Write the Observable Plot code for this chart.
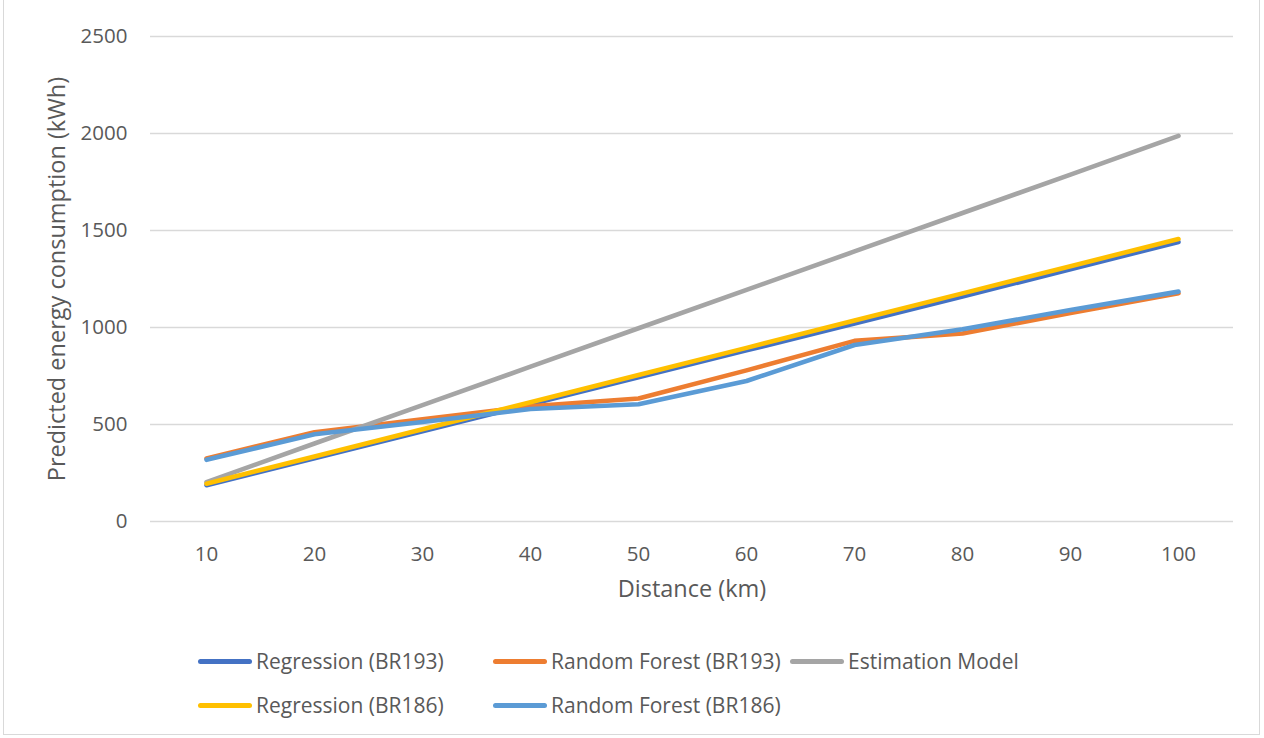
<!DOCTYPE html>
<html>
<head>
<meta charset="utf-8">
<script src="https://cdn.jsdelivr.net/npm/d3@7"></script>
<script src="https://cdn.jsdelivr.net/npm/@observablehq/plot@0.6"></script>
<style>
  body { margin: 0; background: #fff; }
  #chart { position: relative; width: 1264px; height: 738px; font-family: "Open Sans", sans-serif; color: #595959; overflow: hidden; }
  #border { position: absolute; left: 3px; top: -2px; width: 1257px; height: 737px; border: 1px solid #d9d9d9; box-sizing: border-box; pointer-events: none; }
  .legend-item { position: absolute; display: flex; align-items: center; font-size: 21px; white-space: nowrap; }
  .legend-item .swatch { width: 54px; height: 5px; border-radius: 3px; margin-right: 4px; }
</style>
</head>
<body>
<div id="chart"><div id="border"></div></div>
<script>
// Distance categories (km)
const distances = [10, 20, 30, 40, 50, 60, 70, 80, 90, 100];

// Predicted energy consumption (kWh) per series
const regressionBR193   = [187, 326, 465, 604, 743, 882, 1021, 1160, 1300, 1441];
const randomForestBR193 = [325, 460, 527, 594, 634, 779, 931, 969, 1075, 1176];
const estimationModel   = [203, 402, 600, 798, 996, 1194, 1392, 1590, 1788, 1988];
const regressionBR186   = [195, 335, 475, 615, 755, 895, 1036, 1176, 1316, 1456];
const randomForestBR186 = [318, 450, 513, 580, 604, 724, 910, 991, 1090, 1185];

const seriesNames = [
  "Regression (BR193)",
  "Random Forest (BR193)",
  "Estimation Model",
  "Regression (BR186)",
  "Random Forest (BR186)"
];
const seriesValues = [regressionBR193, randomForestBR193, estimationModel, regressionBR186, randomForestBR186];
const seriesColors = ["#4472C4", "#ED7D31", "#A5A5A5", "#FFC000", "#5B9BD5"];

const yTicks = [0, 500, 1000, 1500, 2000, 2500];
const xTitle = "Distance (km)";
const yTitle = "Predicted energy consumption (kWh)";

// Long-form rows; series order sets the drawing order
const rows = seriesNames.flatMap((name, i) =>
  distances.map((d, j) => ({series: name, distance: d, value: seriesValues[i][j]}))
);

const chart = Plot.plot({
  width: 1264,
  height: 738,
  marginLeft: 150,
  marginRight: 31,
  marginTop: 36,
  marginBottom: 217,
  style: {fontFamily: "'Open Sans', sans-serif", fontSize: "20.5px", color: "#595959", background: "transparent"},
  x: {type: "point", domain: distances, padding: 0.5},
  y: {domain: [0, 2500]},
  color: {domain: seriesNames, range: seriesColors},
  marks: [
    Plot.gridY(yTicks, {stroke: "#d9d9d9", strokeOpacity: 1, strokeWidth: 1.3}),
    Plot.axisY(yTicks, {tickSize: 0, tickPadding: 23, fill: "#595959", tickFormat: d => String(d), label: null}),
    Plot.axisX({tickSize: 0, tickPadding: 25, fill: "#595959", label: null}),
    Plot.text([xTitle], {
      frameAnchor: "bottom", dy: 68, lineAnchor: "middle", textAnchor: "middle",
      fontSize: 23.5, fill: "#595959", text: d => d
    }),
    Plot.text([yTitle], {
      frameAnchor: "left", dx: -93, rotate: -90, lineAnchor: "middle", textAnchor: "middle",
      fontSize: 23.5, fill: "#595959", text: d => d
    }),
    Plot.line(rows, {
      x: "distance", y: "value", z: "series", stroke: "series",
      strokeWidth: 4.6, strokeLinecap: "round", strokeLinejoin: "round"
    })
  ]
});
document.getElementById("chart").appendChild(chart);

// Legend below the plot area
const legendSpots = [
  {left: 198, top: 647}, {left: 493, top: 647}, {left: 790, top: 647},
  {left: 198, top: 691}, {left: 493, top: 691}
];
const container = document.getElementById("chart");
seriesNames.forEach((name, i) => {
  const item = document.createElement("div");
  item.className = "legend-item";
  item.style.left = legendSpots[i].left + "px";
  item.style.top = legendSpots[i].top + "px";
  const sw = document.createElement("div");
  sw.className = "swatch";
  sw.style.background = seriesColors[i];
  const label = document.createElement("span");
  label.textContent = name;
  item.appendChild(sw);
  item.appendChild(label);
  container.appendChild(item);
});
</script>
</body>
</html>
